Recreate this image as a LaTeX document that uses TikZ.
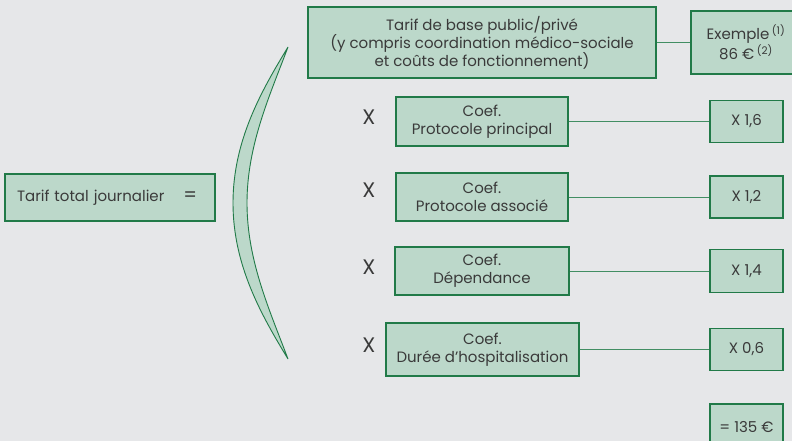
\documentclass[tikz,border=0pt]{standalone}
\usepackage{fontspec}
\setmainfont{Poppins}
\definecolor{fond}{HTML}{E6E7E9}
\definecolor{vertclair}{HTML}{BCD8CA}
\definecolor{vertfonce}{HTML}{217A48}
\definecolor{texte}{HTML}{3A3A3A}

\begin{document}
\begin{tikzpicture}[x=1pt,y=-1pt]
\tikzstyle{boite}=[draw=vertfonce,fill=vertclair,line width=1.2pt,text=texte,align=center,inner sep=0pt,font=\fontsize{15}{18}\selectfont]
\tikzstyle{lien}=[draw=vertfonce!85,line width=0.9pt]
\tikzstyle{fois}=[text=texte,font=\fontsize{21}{21}\selectfont]

\clip (0,0) rectangle (792,441);
\fill[fond] (0,0) rectangle (792,441);

% Tarif total
\node[boite,minimum width=210pt,minimum height=47pt,text width=186pt,align=left] (Total) at (110,197.5) {Tarif total journalier\hfill{\fontsize{19}{19}\selectfont =}\hspace*{6pt}};

% Accolade
\draw[vertfonce,fill=vertclair,line width=0.9pt] (288,47) .. controls (262,90) and (233,140) .. (233,203)
  .. controls (233,266) and (262,316) .. (288,359)
  .. controls (270,311) and (247,261) .. (247,203)
  .. controls (247,145) and (270,95) .. (288,47) -- cycle;

% Tarif de base
\node[boite,minimum width=348pt,minimum height=71pt] (Base) at (482,42.5) {Tarif de base public/privé\\(y compris coordination médico-sociale\\et coûts de fonctionnement)};
\node[boite,minimum width=110pt,minimum height=63pt] (Ex) at (746,42.5) {Exemple\,\textsuperscript{(1)}\\86 €\,\textsuperscript{(2)}};
 \path[lien] (Base) edge (Ex);

% Protocole principal
\node[fois] (X1) at (369,117) {X};
\node[boite,minimum width=172pt,minimum height=49pt] (P1) at (482,121.5) {Coef.\\Protocole principal};
\node[boite,minimum width=73pt,minimum height=42pt] (V1) at (746.5,121.5) {X 1,6};
 \path[lien] (P1) edge (V1);

% Protocole associe
\node[fois] (X2) at (369,190) {X};
\node[boite,minimum width=172pt,minimum height=48pt] (P2) at (482,197) {Coef.\\Protocole associé};
\node[boite,minimum width=73pt,minimum height=42pt] (V2) at (746.5,197) {X 1,2};
 \path[lien] (P2) edge (V2);

% Dependance
\node[fois] (X3) at (369,267) {X};
\node[boite,minimum width=174pt,minimum height=48pt] (P3) at (482,271) {Coef.\\Dépendance};
\node[boite,minimum width=73pt,minimum height=43pt] (V3) at (746.5,271) {X 1,4};
 \path[lien] (P3) edge (V3);

% Duree
\node[fois] (X4) at (369,345) {X};
\node[boite,minimum width=193pt,minimum height=53pt] (P4) at (482.5,349.5) {Coef.\\Durée d'hospitalisation};
\node[boite,minimum width=73pt,minimum height=42pt] (V4) at (746.5,349.5) {X 0,6};
 \path[lien] (P4) edge (V4);

% Resultat
\node[boite,minimum width=73pt,minimum height=46pt] (R) at (746.5,427) {= 135 €};

\end{tikzpicture}
\end{document}
